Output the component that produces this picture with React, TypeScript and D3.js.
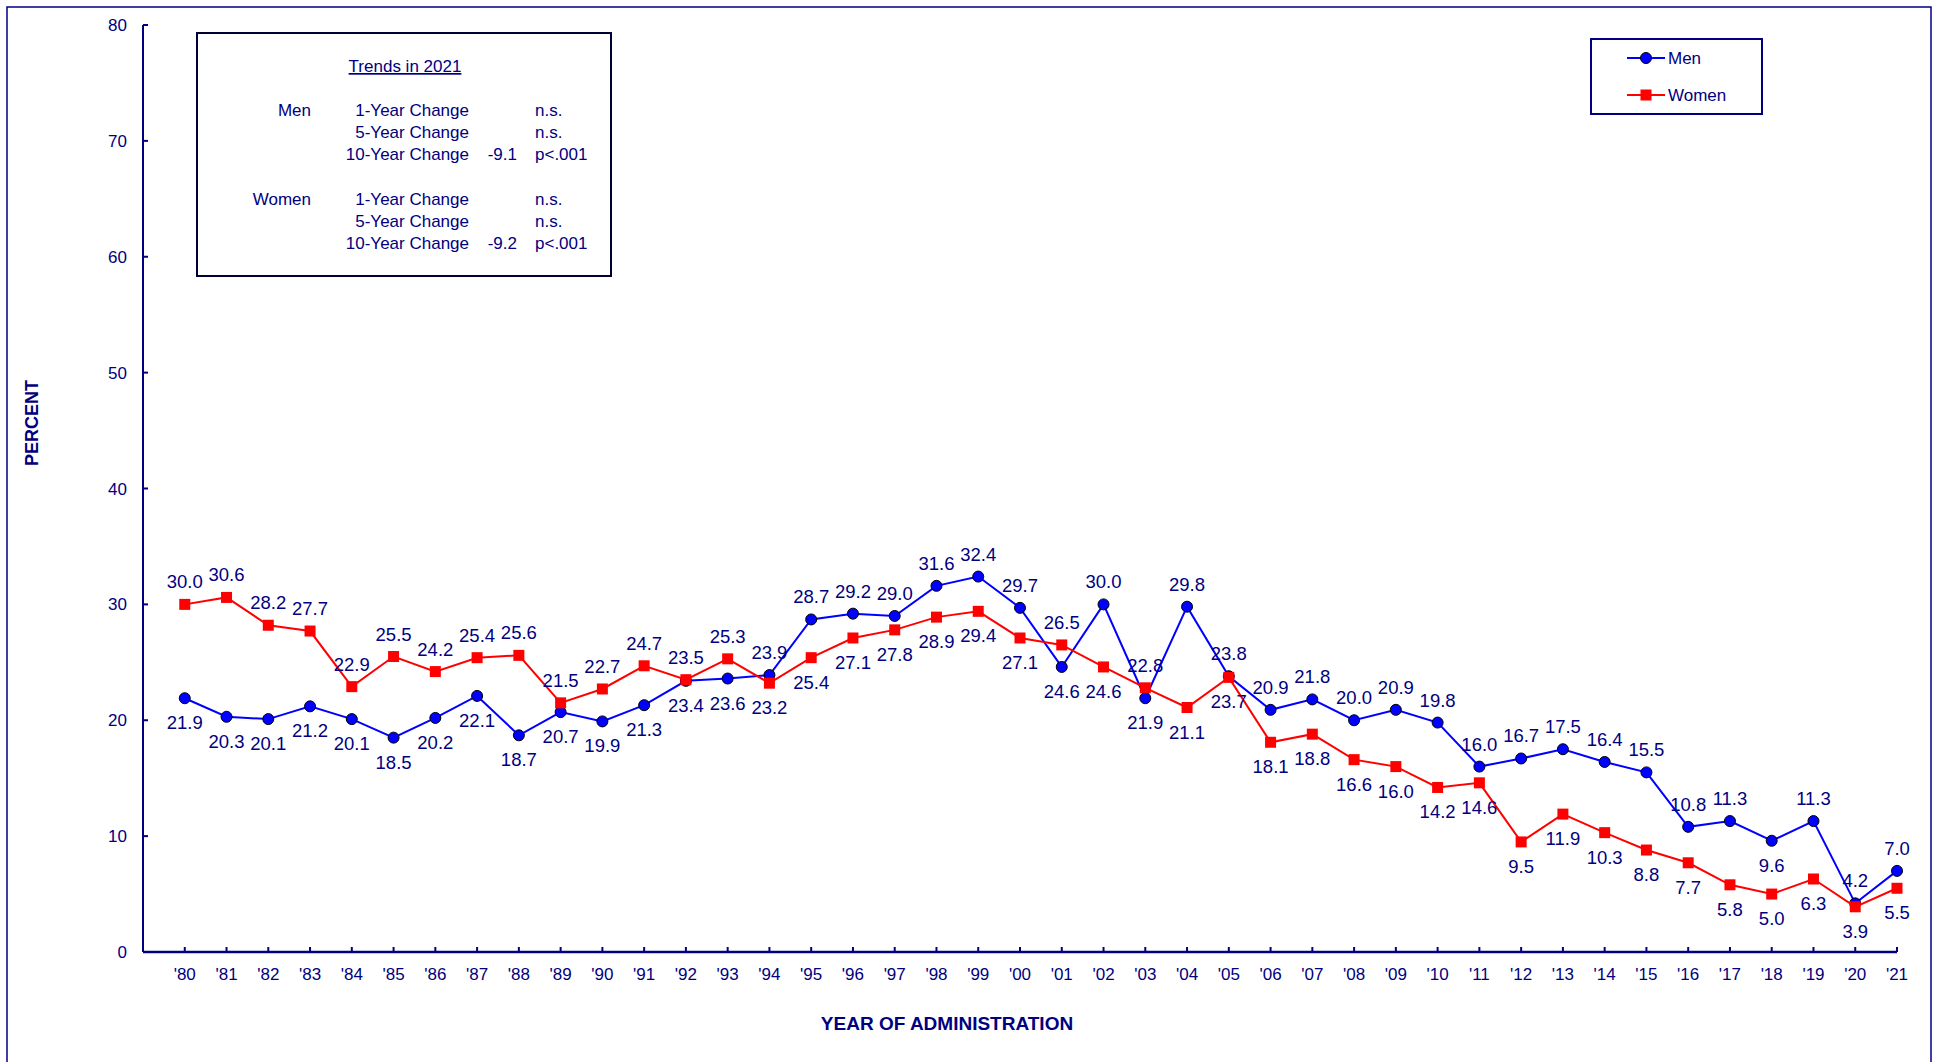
import React from 'react';
import * as d3 from 'd3';

const years = ["'80", "'81", "'82", "'83", "'84", "'85", "'86", "'87", "'88", "'89", "'90", "'91", "'92", "'93", "'94", "'95", "'96", "'97", "'98", "'99", "'00", "'01", "'02", "'03", "'04", "'05", "'06", "'07", "'08", "'09", "'10", "'11", "'12", "'13", "'14", "'15", "'16", "'17", "'18", "'19", "'20", "'21"];

const men = [21.9, 20.3, 20.1, 21.2, 20.1, 18.5, 20.2, 22.1, 18.7, 20.7, 19.9, 21.3, 23.4, 23.6, 23.9, 28.7, 29.2, 29.0, 31.6, 32.4, 29.7, 24.6, 30.0, 21.9, 29.8, 23.8, 20.9, 21.8, 20.0, 20.9, 19.8, 16.0, 16.7, 17.5, 16.4, 15.5, 10.8, 11.3, 9.6, 11.3, 4.2, 7.0];
const women = [30.0, 30.6, 28.2, 27.7, 22.9, 25.5, 24.2, 25.4, 25.6, 21.5, 22.7, 24.7, 23.5, 25.3, 23.2, 25.4, 27.1, 27.8, 28.9, 29.4, 27.1, 26.5, 24.6, 22.8, 21.1, 23.7, 18.1, 18.8, 16.6, 16.0, 14.2, 14.6, 9.5, 11.9, 10.3, 8.8, 7.7, 5.8, 5.0, 6.3, 3.9, 5.5];

// label side per point: a = above, b = below
// men:   '80-'93 below, '94-'00 above, '01 b, '02 a, '03 b, '04-'17 above, '18 b, '19-'21 above
const menLabelSide = ('b'.repeat(14) + 'a'.repeat(7) + 'bab' + 'a'.repeat(14) + 'b' + 'aaa').split('');
// women: '80-'93 above, '94-'00 below, '01 a, '02 b, '03 a, '04-'21 below
const womenLabelSide = ('a'.repeat(14) + 'b'.repeat(7) + 'aba' + 'b'.repeat(18)).split('');

const yTicks = [0, 10, 20, 30, 40, 50, 60, 70, 80];

const trendRows = [
  { group: 'Men', label: '1-Year Change', change: '', sig: 'n.s.' },
  { group: '', label: '5-Year Change', change: '', sig: 'n.s.' },
  { group: '', label: '10-Year Change', change: '-9.1', sig: 'p<.001' },
  { group: 'Women', label: '1-Year Change', change: '', sig: 'n.s.' },
  { group: '', label: '5-Year Change', change: '', sig: 'n.s.' },
  { group: '', label: '10-Year Change', change: '-9.2', sig: 'p<.001' },
];

const NAVY = '#000080';
const FONT = '"Liberation Sans", Arial, sans-serif';

const App: React.FC = () => {
  const width = 1936;
  const height = 1062;
  const left = 143;
  const right = 1897;
  const top = 25;
  const bottom = 952;

  const x = d3.scaleLinear().domain([-1, years.length - 1]).range([left, right]);
  const y = d3.scaleLinear().domain([0, 80]).range([bottom, top]);

  const line = d3.line<number>()
    .x((_, i) => x(i))
    .y(d => y(d));

  const labelY = (v: number, side: string) => side === 'a' ? y(v) - 16 : y(v) + 31;

  const rowY = [116, 138, 160, 205, 227, 249];

  return (
    <svg width={width} height={height} style={{ position: 'absolute', left: 0, top: 0, background: '#fff' }} fontFamily={FONT}>
      {/* outer frame */}
      <rect x={7} y={7} width={1924} height={1080} fill="none" stroke={NAVY} strokeWidth={1.5} />

      {/* y axis */}
      <line x1={left} x2={left} y1={top} y2={bottom} stroke={NAVY} strokeWidth={2} />
      {yTicks.map(t => (
        <g key={t}>
          <line x1={left} x2={left + 5} y1={y(t)} y2={y(t)} stroke={NAVY} strokeWidth={2} />
          <text x={127} y={y(t)} dy="0.36em" textAnchor="end" fontSize={17} fill={NAVY}>{t}</text>
        </g>
      ))}

      {/* x axis */}
      <line x1={left} x2={right} y1={bottom} y2={bottom} stroke={NAVY} strokeWidth={2.5} />
      {years.map((yr, i) => (
        <g key={yr}>
          <line x1={x(i)} x2={x(i)} y1={bottom} y2={bottom - 5} stroke={NAVY} strokeWidth={2} />
          <text x={x(i)} y={980} textAnchor="middle" fontSize={17} fill={NAVY}>{yr}</text>
        </g>
      ))}

      <text x={947} y={1030} textAnchor="middle" fontSize={19} fontWeight="bold" fill={NAVY}>YEAR OF ADMINISTRATION</text>
      <text transform="translate(38,423) rotate(-90)" textAnchor="middle" fontSize={18} fontWeight="bold" fill={NAVY}>PERCENT</text>

      {/* men series */}
      <path d={line(men) ?? ''} fill="none" stroke="#0000ff" strokeWidth={2} />
      {men.map((v, i) => (
        <circle key={'m' + i} cx={x(i)} cy={y(v)} r={5.5} fill="#0000ff" stroke="#000" strokeWidth={1} />
      ))}

      {/* women series */}
      <path d={line(women) ?? ''} fill="none" stroke="#ff0000" strokeWidth={2} />
      {women.map((v, i) => (
        <rect key={'w' + i} x={x(i) - 5.5} y={y(v) - 5.5} width={11} height={11} fill="#ff0000" />
      ))}

      {/* data labels */}
      {men.map((v, i) => (
        <text key={'ml' + i} x={x(i)} y={labelY(v, menLabelSide[i])} textAnchor="middle" fontSize={18.5} fill={NAVY}>{v.toFixed(1)}</text>
      ))}
      {women.map((v, i) => (
        <text key={'wl' + i} x={x(i)} y={labelY(v, womenLabelSide[i])} textAnchor="middle" fontSize={18.5} fill={NAVY}>{v.toFixed(1)}</text>
      ))}

      {/* trends box */}
      <rect x={197} y={33} width={414} height={243} fill="#fff" stroke="#000033" strokeWidth={2} />
      <text x={405} y={72} textAnchor="middle" fontSize={17} fill={NAVY} textDecoration="underline">Trends in 2021</text>
      {trendRows.map((r, i) => (
        <g key={'tr' + i} fontSize={17} fill={NAVY}>
          {r.group && <text x={311} y={rowY[i]} textAnchor="end">{r.group}</text>}
          <text x={469} y={rowY[i]} textAnchor="end">{r.label}</text>
          {r.change && <text x={517} y={rowY[i]} textAnchor="end">{r.change}</text>}
          <text x={535} y={rowY[i]}>{r.sig}</text>
        </g>
      ))}

      {/* legend */}
      <rect x={1591} y={39} width={171} height={75} fill="#fff" stroke={NAVY} strokeWidth={2} />
      <line x1={1627} x2={1665} y1={58} y2={58} stroke="#0000ff" strokeWidth={2} />
      <circle cx={1646} cy={58} r={5.5} fill="#0000ff" stroke="#000" strokeWidth={1} />
      <text x={1668} y={64} fontSize={17} fill={NAVY}>Men</text>
      <line x1={1627} x2={1665} y1={95} y2={95} stroke="#ff0000" strokeWidth={2} />
      <rect x={1640.5} y={89.5} width={11} height={11} fill="#ff0000" />
      <text x={1668} y={101} fontSize={17} fill={NAVY}>Women</text>
    </svg>
  );
};

export default App;
